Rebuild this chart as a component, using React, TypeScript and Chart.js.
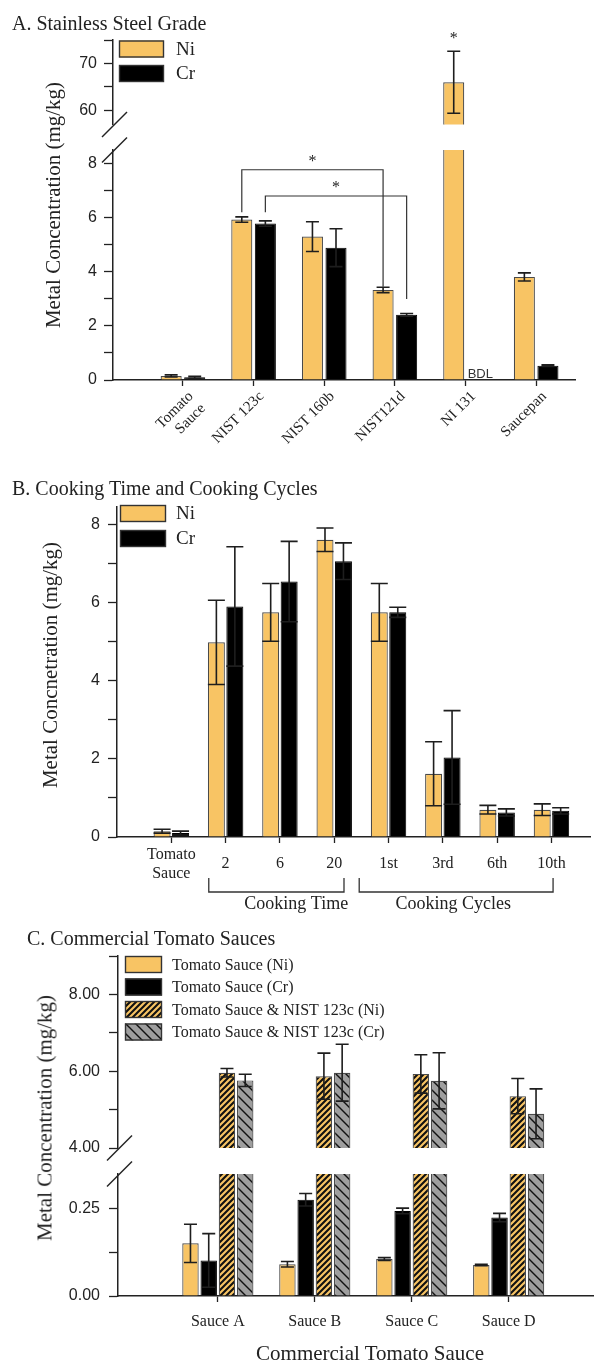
import React, { useEffect, useRef } from "react";
import { Chart, registerables } from "chart.js";

Chart.register(...registerables);

const SERIF = '"Liberation Serif", "Times New Roman", Times, serif';
const SANS = '"Liberation Sans", Arial, Helvetica, sans-serif';
const INK = "#222222";
const NI_FILL = "#F8C464";
const EDGE = "#4a4a4a";
const CR_FILL = "#000000";
const GRAY_FILL = "#9E9E9E";
const PAGE_W = 597;

// ---------------- Panel A: Stainless Steel Grade ----------------
const gradeCategories: (string | string[])[] = [["Tomato", "Sauce"], "NIST 123c", "NIST 160b", "NIST121d", "NI 131", "Saucepan"];
const gradeNi = [0.15, 5.93, 5.3, 3.33, 66.0, 3.81];
const gradeNiErr = [0.04, 0.1, 0.55, 0.1, 6.6, 0.15];
const gradeCr: (number | null)[] = [0.1, 5.78, 4.89, 2.41, null, 0.53];
const gradeCrErr: (number | null)[] = [0.04, 0.1, 0.7, 0.05, null, 0.03];
const gradeCrNotes = ["", "", "", "", "BDL", ""];
const gradeNiStars = [false, false, false, false, true, false];
const gradeUpperTicks = [60, 65, 70, 75];
const gradeUpperTickLabels = ["60", "", "70", ""];
const gradeLowerTicks = [0, 1, 2, 3, 4, 5, 6, 7, 8];
const gradeLowerTickLabels = ["0", "", "2", "", "4", "", "6", "", "8"];
const gradeSignificance = [
  { fromCat: 1, toCat: 3, series: 0, level: 7.77, fromEnd: 6.2, toEnd: 3.45 },
  { fromCat: 1, toCat: 3, series: 1, level: 6.8, fromEnd: 6.2, toEnd: 2.99 },
];

// ---------------- Panel B: Cooking Time and Cooking Cycles ----------------
const cookCategories: (string | string[])[] = [["Tomato", "Sauce"], "2", "6", "20", "1st", "3rd", "6th", "10th"];
const cookNi = [0.15, 4.99, 5.76, 7.62, 5.76, 1.62, 0.7, 0.7];
const cookNiErr = [0.05, 1.08, 0.74, 0.3, 0.74, 0.82, 0.11, 0.15];
const cookCr = [0.1, 5.91, 6.55, 7.07, 5.76, 2.04, 0.63, 0.67];
const cookCrErr = [0.05, 1.53, 1.03, 0.47, 0.13, 1.2, 0.09, 0.08];
const cookTicks = [0, 1, 2, 3, 4, 5, 6, 7, 8];
const cookTickLabels = ["0", "", "2", "", "4", "", "6", "", "8"];
const cookGroupLabels = ["Cooking Time", "Cooking Cycles"];

// ---------------- Panel C: Commercial Tomato Sauces ----------------
const sauceCategories = ["Sauce A", "Sauce B", "Sauce C", "Sauce D"];
const sauceNi = [0.151, 0.091, 0.106, 0.089];
const sauceNiErr = [0.055, 0.008, 0.004, 0.002];
const sauceCr = [0.102, 0.276, 0.244, 0.225];
const sauceCrErr = [0.077, 0.018, 0.008, 0.012];
const spikedNi = [5.96, 5.87, 5.93, 5.35];
const spikedNiErr = [0.11, 0.6, 0.5, 0.46];
const spikedCr = [5.76, 5.96, 5.75, 4.89];
const spikedCrErr = [0.16, 0.74, 0.73, 0.65];
const sauceUpperTicks = [4, 5, 6, 7, 8, 9];
const sauceUpperTickLabels = ["4.00", "", "6.00", "", "8.00", ""];
const sauceLowerTicks = [0, 0.125, 0.25];
const sauceLowerTickLabels = ["0.00", "", "0.25"];
const sauceSeriesLabels = [
  "Tomato Sauce (Ni)",
  "Tomato Sauce (Cr)",
  "Tomato Sauce & NIST 123c (Ni)",
  "Tomato Sauce & NIST 123c (Cr)",
];

// canvas boxes (page coordinates)
const BOXES = [
  { top: 15, height: 130 }, // A upper
  { top: 128, height: 332 }, // A lower
  { top: 485, height: 430 }, // B
  { top: 928, height: 242 }, // C upper
  { top: 1150, height: 213 }, // C lower
];

type Series = {
  label: string;
  values: (number | null)[];
  errors: (number | null)[];
  fill: any;
  edge: string;
  edgeWidth: number;
};

type Segment = {
  top: number;
  height: number;
  area: { top: number; bottom: number; left: number; right: number };
  xMin: number;
  xMax: number;
  xLabels: (string | string[])[];
  showX: boolean;
  xRotation: number;
  xFont: number;
  xPad: number;
  xShift: number;
  yMin: number;
  yMax: number;
  yTicks: number[];
  yLabels: string[];
  yFont: number;
  yPad: number;
  series: Series[];
  catPct: number;
  barPct: number;
  capW: number;
  slash?: "top" | "bottom";
  extra?: (chart: any, ctx: CanvasRenderingContext2D, top: number) => void;
};

function stripes(bg: string, fg: string, size: number, lw: number, forward: boolean): any {
  const c = document.createElement("canvas");
  c.width = size;
  c.height = size;
  const g = c.getContext("2d");
  if (!g) return bg;
  g.fillStyle = bg;
  g.fillRect(0, 0, size, size);
  g.strokeStyle = fg;
  g.lineWidth = lw;
  g.beginPath();
  for (const o of [-size, 0, size]) {
    if (forward) {
      g.moveTo(o - 1, size + 1);
      g.lineTo(o + size + 1, -1);
    } else {
      g.moveTo(o - 1, -1);
      g.lineTo(o + size + 1, size + 1);
    }
  }
  g.stroke();
  return g.createPattern(c, "repeat") || bg;
}

function drawLegend(
  chart: any,
  ctx: CanvasRenderingContext2D,
  top: number,
  x: number,
  rowsY: number[],
  w: number,
  h: number,
  textX: number,
  font: number
) {
  chart.data.datasets.forEach((ds: any, i: number) => {
    if (rowsY[i] === undefined) return;
    const y = rowsY[i] - top;
    ctx.save();
    ctx.fillStyle = ds.backgroundColor;
    ctx.fillRect(x, y, w, h);
    ctx.lineWidth = 1.4;
    ctx.strokeStyle = "#333";
    ctx.strokeRect(x + 0.5, y + 0.5, w - 1, h - 1);
    ctx.fillStyle = INK;
    ctx.font = `${font}px ${SERIF}`;
    ctx.textAlign = "left";
    ctx.textBaseline = "middle";
    ctx.fillText(ds.label, textX, y + h / 2 + 1);
    ctx.restore();
  });
}

function drawStar(ctx: CanvasRenderingContext2D, x: number, yCenter: number) {
  ctx.save();
  ctx.fillStyle = INK;
  ctx.font = `16px ${SERIF}`;
  ctx.textAlign = "center";
  ctx.textBaseline = "alphabetic";
  ctx.fillText("*", x, yCenter + 8);
  ctx.restore();
}

function buildConfig(seg: Segment): any {
  const bottomSpace = seg.top + seg.height - seg.area.bottom;
  const errPlugin = {
    id: "errbars",
    afterDatasetsDraw(chart: any) {
      const { ctx, chartArea } = chart;
      const ys = chart.scales.y;
      ctx.save();
      ctx.beginPath();
      ctx.rect(chartArea.left, chartArea.top - 1, chartArea.right - chartArea.left, chartArea.bottom - chartArea.top + 1);
      ctx.clip();
      ctx.strokeStyle = "#1e1e1e";
      ctx.lineWidth = 1.6;
      seg.series.forEach((s, di) => {
        const meta = chart.getDatasetMeta(di);
        meta.data.forEach((bar: any, i: number) => {
          const v = s.values[i];
          const e = s.errors[i];
          if (v == null || e == null) return;
          const x = bar.x;
          const yt = ys.getPixelForValue(v + e);
          const yb = ys.getPixelForValue(v - e);
          const hw = seg.capW / 2;
          ctx.beginPath();
          ctx.moveTo(x, yt);
          ctx.lineTo(x, yb);
          ctx.moveTo(x - hw, yt);
          ctx.lineTo(x + hw, yt);
          ctx.moveTo(x - hw, yb);
          ctx.lineTo(x + hw, yb);
          ctx.stroke();
        });
      });
      ctx.restore();
    },
  };
  const extraPlugin = {
    id: "extras",
    afterDraw(chart: any) {
      const { ctx, chartArea } = chart;
      if (seg.slash) {
        const y0 = seg.slash === "top" ? chartArea.top : chartArea.bottom;
        ctx.save();
        ctx.strokeStyle = "#222";
        ctx.lineWidth = 1.4;
        ctx.beginPath();
        ctx.moveTo(chartArea.left - 11, y0 + 12.5);
        ctx.lineTo(chartArea.left + 14, y0 - 12.5);
        ctx.stroke();
        ctx.restore();
      }
      if (seg.extra) seg.extra(chart, ctx, seg.top);
    },
  };
  return {
    type: "bar",
    data: {
      datasets: seg.series.map((s) => ({
        label: s.label,
        data: s.values.map((v, i) => ({ x: i, y: v })),
        backgroundColor: s.fill,
        borderColor: s.edge,
        borderWidth: s.edgeWidth,
        categoryPercentage: seg.catPct,
        barPercentage: seg.barPct,
        clip: 0,
      })),
    },
    options: {
      animation: false,
      responsive: false,
      maintainAspectRatio: false,
      events: [],
      layout: {
        padding: {
          top: seg.area.top - seg.top,
          left: 0,
          right: PAGE_W - seg.area.right,
          bottom: seg.showX ? 0 : bottomSpace,
        },
      },
      plugins: { legend: { display: false }, tooltip: { enabled: false }, title: { display: false } },
      scales: {
        x: {
          type: "linear",
          min: seg.xMin,
          max: seg.xMax,
          bounds: "data",
          offset: false,
          display: seg.showX,
          afterBuildTicks: (s: any) => {
            s.ticks = seg.xLabels.map((_, i) => ({ value: i }));
          },
          afterFit: (s: any) => {
            if (seg.showX) s.height = bottomSpace;
          },
          ticks: {
            autoSkip: false,
            maxRotation: seg.xRotation,
            minRotation: seg.xRotation,
            padding: seg.xPad,
            labelOffset: seg.xShift,
            color: INK,
            crossAlign: "center",
            font: { family: SERIF, size: seg.xFont, lineHeight: 1.15 },
            callback: (_v: any, i: number) => seg.xLabels[i],
          },
          grid: {
            display: true,
            drawOnChartArea: false,
            drawTicks: true,
            tickLength: 6,
            tickWidth: 1.3,
            tickColor: "#222",
            offset: false,
          },
          border: { display: true, color: "#222", width: 1.5 },
        },
        y: {
          type: "linear",
          min: seg.yMin,
          max: seg.yMax,
          bounds: "data",
          beginAtZero: false,
          afterBuildTicks: (s: any) => {
            s.ticks = seg.yTicks.map((v) => ({ value: v }));
          },
          afterFit: (s: any) => {
            s.width = seg.area.left;
          },
          ticks: {
            autoSkip: false,
            padding: seg.yPad,
            color: INK,
            font: { family: SANS, size: seg.yFont },
            callback: (_v: any, i: number) => seg.yLabels[i],
          },
          grid: {
            drawOnChartArea: false,
            drawTicks: true,
            tickLength: 9,
            tickWidth: 1.3,
            tickColor: "#222",
          },
          border: { display: true, color: "#222", width: 1.5 },
        },
      },
    },
    plugins: [errPlugin, extraPlugin],
  };
}

function buildSegments(): Segment[] {
  const gradeSeries: Series[] = [
    { label: "Ni", values: gradeNi, errors: gradeNiErr, fill: NI_FILL, edge: EDGE, edgeWidth: 1.2 },
    { label: "Cr", values: gradeCr, errors: gradeCrErr, fill: CR_FILL, edge: "#000", edgeWidth: 1 },
  ];
  const cookSeries: Series[] = [
    { label: "Ni", values: cookNi, errors: cookNiErr, fill: NI_FILL, edge: EDGE, edgeWidth: 1.2 },
    { label: "Cr", values: cookCr, errors: cookCrErr, fill: CR_FILL, edge: "#000", edgeWidth: 1 },
  ];
  const niHatch = stripes(NI_FILL, "#111", 6, 2.1, true);
  const grayHatch = stripes(GRAY_FILL, "#111", 10, 1.4, false);
  const sauceSeries: Series[] = [
    { label: sauceSeriesLabels[0], values: sauceNi, errors: sauceNiErr, fill: NI_FILL, edge: EDGE, edgeWidth: 1.2 },
    { label: sauceSeriesLabels[1], values: sauceCr, errors: sauceCrErr, fill: CR_FILL, edge: "#000", edgeWidth: 1 },
    { label: sauceSeriesLabels[2], values: spikedNi, errors: spikedNiErr, fill: niHatch, edge: EDGE, edgeWidth: 1.2 },
    { label: sauceSeriesLabels[3], values: spikedCr, errors: spikedCrErr, fill: grayHatch, edge: EDGE, edgeWidth: 1.2 },
  ];

  const aArea = { left: 113, right: 575 };
  const bArea = { left: 117, right: 590 };
  const cArea = { left: 118, right: 593 };

  const aUpper: Segment = {
    ...BOXES[0],
    area: { top: 40, bottom: 124.5, ...aArea },
    xMin: -0.99, xMax: 5.55, xLabels: gradeCategories, showX: false, xRotation: 45, xFont: 15, xPad: 2, xShift: 8,
    yMin: 57, yMax: 75, yTicks: gradeUpperTicks, yLabels: gradeUpperTickLabels, yFont: 16, yPad: 7,
    series: gradeSeries, catPct: 0.667, barPct: 0.894, capW: 13, slash: "bottom",
    extra: (chart, ctx, top) => {
      drawLegend(chart, ctx, top, 119, [40.5, 65], 45, 17, 176, 19);
      const ys = chart.scales.y;
      const bars = chart.getDatasetMeta(0).data;
      gradeNiStars.forEach((st, i) => {
        if (!st) return;
        drawStar(ctx, bars[i].x, ys.getPixelForValue(gradeNi[i] + gradeNiErr[i]) - 16);
      });
    },
  };
  const aLower: Segment = {
    ...BOXES[1],
    area: { top: 150, bottom: 380, ...aArea },
    xMin: -0.99, xMax: 5.55, xLabels: gradeCategories, showX: true, xRotation: 45, xFont: 15, xPad: 2, xShift: 8,
    yMin: 0, yMax: 8.5, yTicks: gradeLowerTicks, yLabels: gradeLowerTickLabels, yFont: 16, yPad: 7,
    series: gradeSeries, catPct: 0.667, barPct: 0.894, capW: 13, slash: "top",
    extra: (chart, ctx) => {
      const ys = chart.scales.y;
      const metas = [chart.getDatasetMeta(0).data, chart.getDatasetMeta(1).data];
      ctx.save();
      ctx.strokeStyle = "#333";
      ctx.lineWidth = 1.2;
      gradeSignificance.forEach((b) => {
        const x1 = metas[b.series][b.fromCat].x;
        const x2 = metas[b.series][b.toCat].x;
        const yl = ys.getPixelForValue(b.level);
        ctx.beginPath();
        ctx.moveTo(x1, ys.getPixelForValue(b.fromEnd));
        ctx.lineTo(x1, yl);
        ctx.lineTo(x2, yl);
        ctx.lineTo(x2, ys.getPixelForValue(b.toEnd));
        ctx.stroke();
        drawStar(ctx, (x1 + x2) / 2, yl - 12);
      });
      ctx.fillStyle = "#333";
      ctx.font = `13px ${SANS}`;
      ctx.textAlign = "center";
      ctx.textBaseline = "middle";
      gradeCrNotes.forEach((note, i) => {
        if (!note) return;
        ctx.fillText(note, metas[1][i].x + 3, chart.chartArea.bottom - 6);
      });
      ctx.restore();
    },
  };
  const cook: Segment = {
    ...BOXES[2],
    area: { top: 507, bottom: 837, ...bArea },
    xMin: -1, xMax: 7.71, xLabels: cookCategories, showX: true, xRotation: 0, xFont: 16, xPad: 12, xShift: 0,
    yMin: 0, yMax: 8.46, yTicks: cookTicks, yLabels: cookTickLabels, yFont: 16, yPad: 8,
    series: cookSeries, catPct: 0.68, barPct: 0.92, capW: 17,
    extra: (chart, ctx, top) => {
      drawLegend(chart, ctx, top, 120, [505, 530], 46, 17, 176, 19);
      const xs = chart.scales.x;
      const b = chart.chartArea.bottom;
      const spans = [
        { from: 0.69, to: 3.18, at: 2.3 },
        { from: 3.46, to: 7.03, at: 5.19 },
      ];
      ctx.save();
      ctx.strokeStyle = "#333";
      ctx.lineWidth = 1.3;
      ctx.fillStyle = INK;
      ctx.font = `18px ${SERIF}`;
      ctx.textAlign = "center";
      ctx.textBaseline = "middle";
      spans.forEach((s, i) => {
        const x1 = xs.getPixelForValue(s.from);
        const x2 = xs.getPixelForValue(s.to);
        ctx.beginPath();
        ctx.moveTo(x1, b + 41);
        ctx.lineTo(x1, b + 55);
        ctx.lineTo(x2, b + 55);
        ctx.lineTo(x2, b + 41);
        ctx.stroke();
        ctx.fillText(cookGroupLabels[i], xs.getPixelForValue(s.at), b + 67);
      });
      ctx.restore();
    },
  };
  const cUpper: Segment = {
    ...BOXES[3],
    area: { top: 956, bottom: 1148, ...cArea },
    xMin: -1.03, xMax: 3.87, xLabels: sauceCategories, showX: false, xRotation: 0, xFont: 16, xPad: 20, xShift: 0,
    yMin: 4, yMax: 9, yTicks: sauceUpperTicks, yLabels: sauceUpperTickLabels, yFont: 16, yPad: 9,
    series: sauceSeries, catPct: 0.753, barPct: 0.9, capW: 13, slash: "bottom",
    extra: (chart, ctx, top) => {
      drawLegend(chart, ctx, top, 125, [956, 978.5, 1001, 1023.5], 37, 17, 172, 16);
    },
  };
  const cLower: Segment = {
    ...BOXES[4],
    area: { top: 1174, bottom: 1296, ...cArea },
    xMin: -1.03, xMax: 3.87, xLabels: sauceCategories, showX: true, xRotation: 0, xFont: 16, xPad: 20, xShift: 0,
    yMin: 0, yMax: 0.35, yTicks: sauceLowerTicks, yLabels: sauceLowerTickLabels, yFont: 16, yPad: 9,
    series: sauceSeries, catPct: 0.753, barPct: 0.9, capW: 13, slash: "top",
  };
  return [aUpper, aLower, cook, cUpper, cLower];
}

const abs: React.CSSProperties = {
  position: "absolute",
  fontFamily: SERIF,
  color: INK,
  whiteSpace: "nowrap",
  margin: 0,
};

function YTitle({ cx, cy, text }: { cx: number; cy: number; text: string }) {
  return (
    <div
      style={{
        ...abs,
        left: cx,
        top: cy,
        fontSize: 21,
        lineHeight: "21px",
        transform: "translate(-50%, -50%) rotate(-90deg)",
      }}
    >
      {text}
    </div>
  );
}

export default function App() {
  const refs = useRef<(HTMLCanvasElement | null)[]>([]);
  useEffect(() => {
    const segs = buildSegments();
    const charts = segs.map((seg, i) => {
      const cv = refs.current[i];
      return cv ? new Chart(cv, buildConfig(seg)) : null;
    });
    return () => charts.forEach((c) => c && c.destroy());
  }, []);

  return (
    <div
      style={{
        position: "absolute",
        left: 0,
        top: 0,
        width: PAGE_W,
        height: 1363,
        background: "#ffffff",
        overflow: "hidden",
      }}
    >
      {BOXES.map((b, i) => (
        <canvas
          key={i}
          ref={(el) => {
            refs.current[i] = el;
          }}
          width={PAGE_W}
          height={b.height}
          style={{ position: "absolute", left: 0, top: b.top, width: PAGE_W, height: b.height }}
        />
      ))}
      <div style={{ ...abs, left: 12, top: 13, fontSize: 20, lineHeight: "20px" }}>A. Stainless Steel Grade</div>
      <div style={{ ...abs, left: 12, top: 478, fontSize: 20, lineHeight: "20px" }}>
        B. Cooking Time and Cooking Cycles
      </div>
      <div style={{ ...abs, left: 27, top: 928, fontSize: 20, lineHeight: "20px" }}>C. Commercial Tomato Sauces</div>
      <YTitle cx={53} cy={205} text="Metal Concentration (mg/kg)" />
      <YTitle cx={50} cy={665} text="Metal Concnetration (mg/kg)" />
      <YTitle cx={45} cy={1118} text="Metal Concentration (mg/kg)" />
      <div
        style={{
          ...abs,
          left: 370,
          top: 1353,
          fontSize: 21,
          lineHeight: "21px",
          transform: "translate(-50%, -50%)",
        }}
      >
        Commercial Tomato Sauce
      </div>
    </div>
  );
}
